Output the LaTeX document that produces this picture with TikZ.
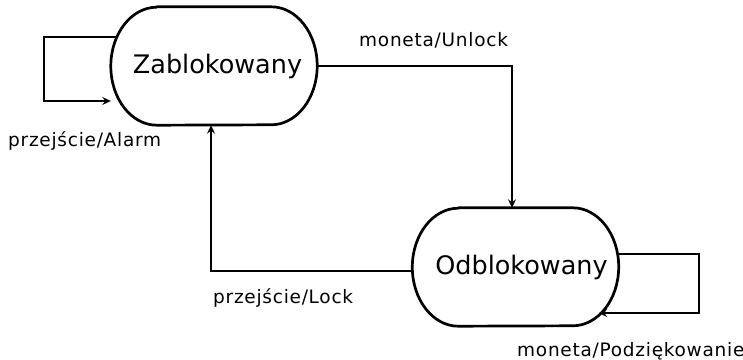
\documentclass[tikz,border=0pt]{standalone}
\usepackage{fontspec}
\setmainfont{DejaVu Sans}
\newfontfamily\labelfont[LetterSpace=4]{DejaVu Sans}
\usetikzlibrary{arrows.meta}

% outline of a state: flat top and bottom, half-ellipse ends
\newcommand\stateoutline[1]{%
  \draw[stateline] ([xshift=46pt]#1.north west) -- ([xshift=-46pt]#1.north east)
    arc[start angle=90,end angle=-90,x radius=46pt,y radius=59pt]
    -- ([xshift=46pt]#1.south west)
    arc[start angle=270,end angle=90,x radius=46pt,y radius=59pt] -- cycle;}

\tikzset{
  statenode/.style={minimum width=206pt,minimum height=118pt,inner sep=0pt,
    font=\fontsize{25.5pt}{30pt}\selectfont},
  stateline/.style={line width=2.7pt,line join=round},
  conn/.style={line width=1.3pt,-{Stealth[length=8.5pt,width=8pt,inset=3pt]}},
  translabel/.style={anchor=base west,inner sep=0pt,
    font=\labelfont\fontsize{18.5pt}{21pt}\selectfont}
}

\begin{document}
\begin{tikzpicture}[x=1pt,y=1pt]
\useasboundingbox (0,0) rectangle (743,359);

% states
\node[statenode] (Z) at (214,293) {\hspace*{7pt}Zablokowany};
\node[statenode] (O) at (515.5,92) {\hspace*{12pt}Odblokowany};
\stateoutline{Z}
\stateoutline{O}

% corners of the self-loops
\coordinate (zloop) at (44,258);
\coordinate (oloop) at (699,46);

% transitions
\draw[conn] ([xshift=5pt,yshift=29pt]Z.west) -| (zloop) -- ([yshift=-35pt]Z.west);
\draw[conn] (Z.east) -| ([xshift=-3.5pt]O.north);
\draw[conn] ([yshift=-4pt]O.west) -| ([xshift=-3pt]Z.south);
\draw[conn] ([yshift=13pt]O.east) -| (oloop) -- ([xshift=-20pt,yshift=-46pt]O.east);

% transition labels
\node[translabel] (lalarm) at (8,212) {przejście/Alarm};
\node[translabel] (lunlock) at (359,312.3) {moneta/Unlock};
\node[translabel] (llock) at (213,56) {przejście/Lock};
\node[translabel] (lthanks) at (517,3) {moneta/Podziękowanie};
\end{tikzpicture}
\end{document}
